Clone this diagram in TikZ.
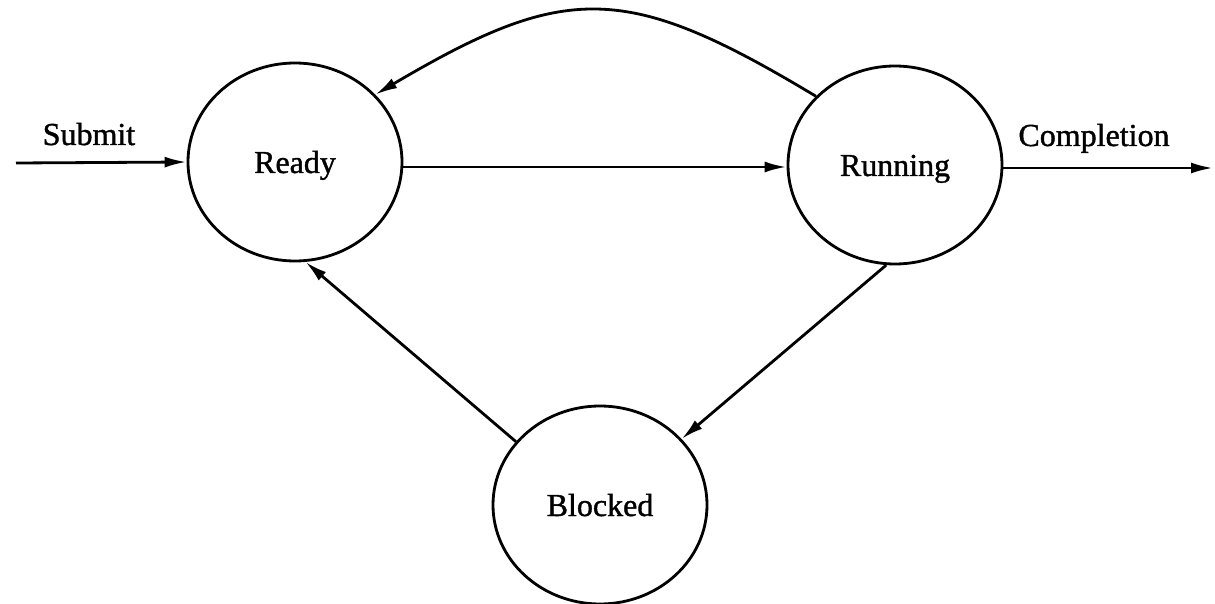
\documentclass[tikz,border=0pt]{standalone}
\usepackage{fontspec}
\setmainfont{Liberation Serif}[FakeBold=1.2]
\usetikzlibrary{arrows.meta,shapes.geometric}
\begin{document}
\begin{tikzpicture}[x=1pt,y=-1pt,
  state/.style={ellipse,draw,line width=2.8pt,minimum width=214pt,minimum height=198pt,inner sep=0pt,
    text height=22pt,text depth=0pt,font=\fontsize{32}{38}\selectfont},
  flow/.style={line width=2.8pt,-{Latex[length=22pt,width=11pt]}},
  lbl/.style={font=\fontsize{32}{38}\selectfont,inner sep=0pt}]
  \useasboundingbox (0,0) rectangle (1215,604);

  % states
  \node[state] (ready) at (295,162) {Ready};
  \node[state] (run) at (895,165) {Running};
  \node[state] (blk) at (600,505) {Blocked};

  % free ends of the entry and exit arrows
  \coordinate (in) at (16,163);
  \coordinate (out) at (1213,168);

  % labels on the entry and exit arrows
  \node[lbl,anchor=base] (submit) at (89,145) {Submit};
  \node[lbl,anchor=base] (compl) at (1094,146) {Completion};

  % transitions
  \draw[flow] (in) -- (ready.west);
  \draw[flow] (ready.east |- 0,167) coordinate (r0) -- (run.west |- r0);
  \draw[flow] (run.east |- out) -- (out);
  \draw[flow] (run.139) .. controls (626,-18) and (566,-18) .. (ready.40);
  \draw[flow] (run.-95) -- (blk.39);
  \draw[flow] (blk.143) -- (ready.-84);
\end{tikzpicture}
\end{document}
